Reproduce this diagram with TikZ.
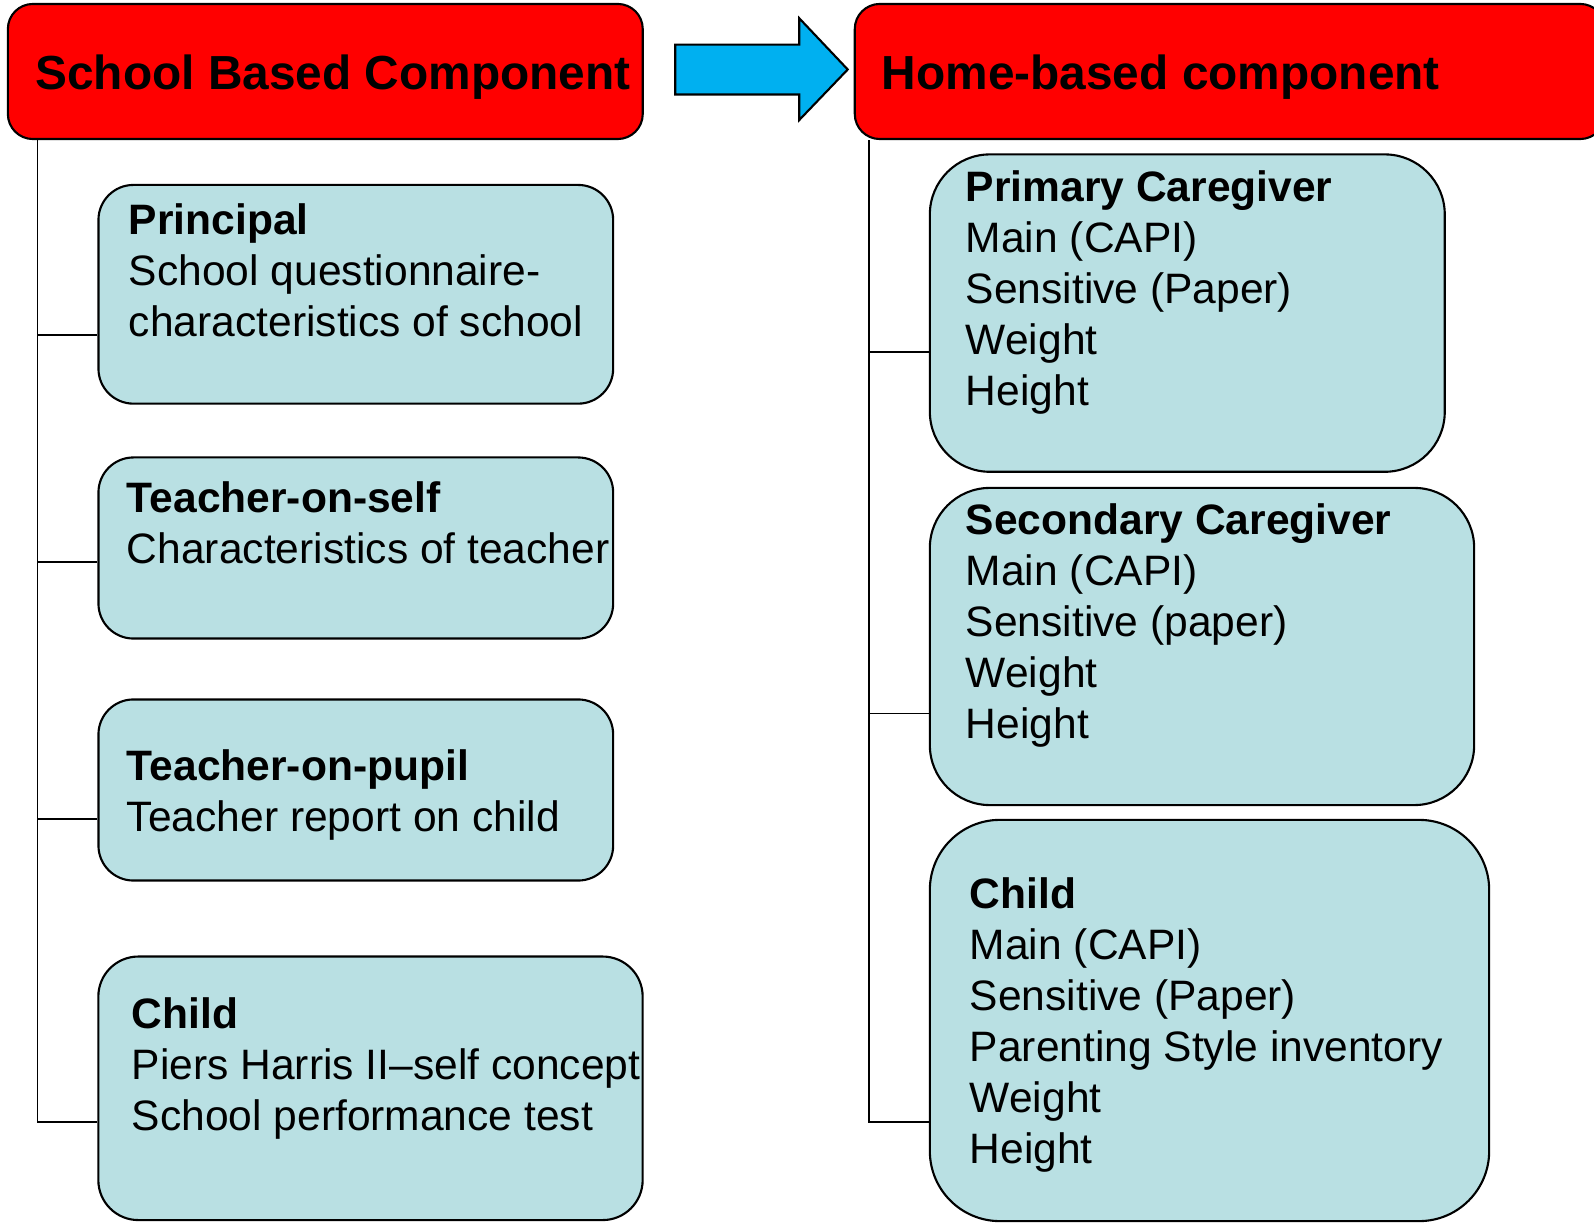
\documentclass[tikz,border=0pt]{standalone}
\usepackage{fontspec}
\setmainfont{Liberation Sans}
\usepackage{tikz}
\usetikzlibrary{
  positioning,
  calc
}
\usepackage{xcolor}
\definecolor{headRed}{rgb}{1,0,0}
\definecolor{paleBlue}{rgb}{0.7265625,0.87890625,0.890625}
\definecolor{arrowBlue}{rgb}{0,0.69140625,0.94140625}
\tikzset{
  head box/.style={
    draw=black,
    fill=headRed,
    rounded corners=0.25cm,
    inner sep = 0pt
  },
  item box/.style={
    draw=black,
    fill=paleBlue,
    inner sep = 0pt
  },
  head text/.style={
    anchor=west,
    inner sep = 0pt,
    font=\fontsize{13.6}{16}\selectfont\bfseries
  },
  item text/.style={
    anchor=north west,
    align=left,
    inner sep = 0pt,
    font=\fontsize{12.1}{14.5}\selectfont
  }
}

\begin{document}
\begin{tikzpicture}[x=0.01cm, y=-0.01cm, line width=0.6pt]
    \useasboundingbox (0,0) rectangle (1594,1225);

    % headers
    \node[head box, minimum width=6.345cm, minimum height=1.35cm]
    (school) at (325.3,71.5) {};
    \node[head box, minimum width=7.5cm, minimum height=1.35cm]
    (home) at (1230,71.5) {};
    \node[head text] (school-title) at ($(school.west)+(27.6,5.5)$)
    {School Based Component};
    \node[head text] (home-title) at ($(home.west)+(27,5.5)$)
    {Home-based component};

    % block arrow between the headers
    \coordinate (arrow-tail) at ($(school.east)+(31.5,-2)$);
    \draw[fill=arrowBlue]
    (arrow-tail) ++(0,-24.8) -- ++(124,0) -- ++(0,-26.4)
    -- ($(home.west)+(-6,-2)$)
    -- ($(arrow-tail)+(124,50.5)$) -- ++(0,-25.5) -- ++(-124,0)
    -- cycle;

    % school boxes
    \node[item box, rounded corners=0.35cm,
      minimum width=5.144cm, minimum height=2.186cm]
    (school1) at (355.8,294.3) {};
    \node[item box, rounded corners=0.35cm,
      minimum width=5.144cm, minimum height=1.81cm]
    (school2) at (355.8,548) {};
    \node[item box, rounded corners=0.35cm,
      minimum width=5.144cm, minimum height=1.81cm]
    (school3) at (355.8,790) {};
    \node[item box, rounded corners=0.4cm,
      minimum width=5.44cm, minimum height=2.634cm]
    (school4) at (370.5,1088.3) {};

    % home boxes
    \node[item box, rounded corners=0.6cm,
      minimum width=5.146cm, minimum height=3.172cm]
    (home1) at (1187.3,313.1) {};
    \node[item box, rounded corners=0.6cm,
      minimum width=5.44cm, minimum height=3.17cm]
    (home2) at (1202,646.5) {};
    \node[item box, rounded corners=0.7cm,
      minimum width=5.59cm, minimum height=4.01cm]
    (home3) at (1209.5,1020.5) {};

    % texts
    \node[item text] (school1-txt) at ($(school1.north west)+(30.5,19)$)
    {\textbf{Principal}\\School questionnaire-\\characteristics of school};
    \node[item text] (school2-txt) at ($(school2.north west)+(28.5,24.5)$)
    {\textbf{Teacher-on-self}\\Characteristics of teacher};
    \node[item text] (school3-txt) at ($(school3.north west)+(28.5,50)$)
    {\textbf{Teacher-on-pupil}\\Teacher report on child};
    \node[item text] (school4-txt) at ($(school4.north west)+(33.5,41)$)
    {\textbf{Child}\\Piers Harris II–self concept\\School performance test};

    \node[item text] (home1-txt) at ($(home1.north west)+(36,16.5)$)
    {\textbf{Primary Caregiver}\\Main (CAPI)\\Sensitive (Paper)\\Weight\\Height};
    \node[item text] (home2-txt) at ($(home2.north west)+(36,15.5)$)
    {\textbf{Secondary Caregiver}\\Main (CAPI)\\Sensitive (paper)\\Weight\\Height};
    \node[item text] (home3-txt) at ($(home3.north west)+(40,57.6)$)
    {\textbf{Child}\\Main (CAPI)\\Sensitive (Paper)\\Parenting Style inventory\\Weight\\Height};

    % trunks and branches
    \coordinate (trunk-school) at ($(school.south west)+(30.6,0)$);
    \coordinate (trunk-home) at ($(home.south west)+(15,0)$);

    \foreach \i/\dy in {1/41,2/14,3/29,4/34}{
      \draw[line width=0.5pt]
      (trunk-school) |- ($(school\i.west)+(0,\dy)$);
    }

    \foreach \i/\dy in {1/38.6,2/67,3/101.5}{
      \draw[line width=0.5pt]
      (trunk-home) |- ($(home\i.west)+(0,\dy)$);
    }
\end{tikzpicture}
\end{document}
